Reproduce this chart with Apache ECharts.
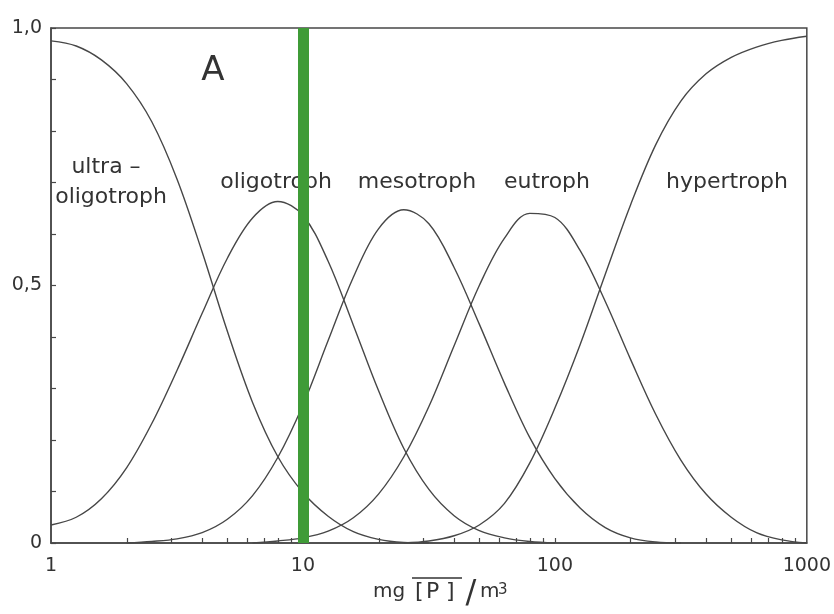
<!DOCTYPE html>
<html>
<head>
<meta charset="utf-8">
<script src="https://cdn.jsdelivr.net/npm/echarts@6/dist/echarts.min.js"></script>
<style>
html,body{margin:0;padding:0;background:#fff;}
#chart{width:834px;height:614px;}
</style>
</head>
<body>
<div id="chart"></div>
<script>
// sample positions along the log axis (mg P / m3)
const xs = [1, 1.259, 1.585, 1.995, 2.512, 3.162, 3.981, 5.012, 6.31, 7.943,
            10, 12.59, 15.85, 19.95, 25.12, 31.62, 39.81, 50.12, 63.1, 79.43,
            100, 125.9, 158.5, 199.5, 251.2, 316.2, 398.1, 501.2, 631, 794.3, 1000];

const ultra = [0.975, 0.965, 0.938, 0.892, 0.818, 0.707, 0.565, 0.411, 0.273, 0.168,
               0.098, 0.052, 0.022, 0.007, 0.001, 0, null, null, null, null,
               null, null, null, null, null, null, null, null, null, null, null];
const oligo = [0.035, 0.05, 0.086, 0.146, 0.232, 0.335, 0.446, 0.553, 0.631, 0.663,
               0.636, 0.547, 0.423, 0.296, 0.184, 0.104, 0.053, 0.024, 0.01, 0.003,
               0, null, null, null, null, null, null, null, null, null, null];
const meso  = [null, null, null, 0, 0.003, 0.008, 0.02, 0.046, 0.092, 0.166,
               0.268, 0.393, 0.516, 0.61, 0.647, 0.62, 0.535, 0.425, 0.31, 0.205,
               0.125, 0.068, 0.03, 0.01, 0.002, 0, null, null, null, null, null];
const eutro = [null, null, null, null, null, null, null, null, 0, 0.004,
               0.01, 0.023, 0.049, 0.095, 0.167, 0.265, 0.383, 0.5, 0.592, 0.64,
               0.632, 0.568, 0.469, 0.357, 0.25, 0.161, 0.095, 0.05, 0.02, 0.006, 0];
const hyper = [null, null, null, null, null, null, null, null, null, null,
               null, null, null, null, 0, 0.004, 0.014, 0.035, 0.077, 0.155,
               0.262, 0.385, 0.522, 0.656, 0.773, 0.858, 0.911, 0.943, 0.963, 0.976, 0.984];

const markerX = [10];
const xTickLabels = [1, 10, 100, 1000];
const xMinorTicks = [2,3,4,5,6,7,8,9,10,20,30,40,50,60,70,80,90,100,200,300,400,500,600,700,800,900];
const yTickLabels = [0, 0.5, 1];
const yLabelText = {'0': '0', '0.5': '0,5', '1': '1,0'};

const curveNames = ['ultra-oligotroph', 'oligotroph', 'mesotroph', 'eutroph', 'hypertroph'];
const curveValues = [ultra, oligo, meso, eutro, hyper];

const FONT = 'DejaVu Sans';
const INK = '#333333';
const LINE = '#474747';

function pairs(vals) {
  const out = [];
  vals.forEach((v, i) => { if (v !== null) out.push([xs[i], v]); });
  return out;
}

const series = curveValues.map((vals, k) => ({
  name: curveNames[k],
  type: 'line',
  data: pairs(vals),
  smooth: 0.35,
  symbol: 'none',
  silent: true,
  lineStyle: { color: LINE, width: 1.4 },
  z: 2
}));

series.push({
  name: 'marker',
  type: 'line',
  data: [],
  z: 5,
  markLine: {
    silent: true,
    symbol: ['none', 'none'],
    label: { show: false },
    lineStyle: { color: '#3f9b37', width: 11, type: 'solid' },
    data: markerX.map(v => ({ xAxis: v }))
  }
});

const chart = echarts.init(document.getElementById('chart'), null, { renderer: 'canvas' });
chart.setOption({
  animation: false,
  backgroundColor: '#fff',
  grid: { left: 51, right: 24, top: 28, bottom: 71, show: true, borderColor: LINE, borderWidth: 1.5, backgroundColor: 'transparent' },
  xAxis: {
    type: 'log', logBase: 10, min: 1, max: 1000,
    axisLine: { show: true, lineStyle: { color: LINE, width: 1.5 } },
    axisTick: { show: true, inside: true, length: 5, customValues: xMinorTicks, lineStyle: { color: LINE, width: 1.2 } },
    axisLabel: { customValues: xTickLabels, margin: 14, fontFamily: FONT, fontSize: 19, color: INK, formatter: v => String(v) },
    splitLine: { show: false }, minorTick: { show: false }
  },
  yAxis: {
    type: 'value', min: 0, max: 1, interval: 0.1,
    axisLine: { show: true, lineStyle: { color: LINE, width: 1.5 } },
    axisTick: { show: true, inside: true, length: 5, lineStyle: { color: LINE, width: 1.2 } },
    axisLabel: { customValues: yTickLabels, margin: 9, fontFamily: FONT, fontSize: 19, color: INK,
      formatter: v => yLabelText[String(Math.round(v * 10) / 10)] || '' },
    splitLine: { show: false }
  },
  series: series,
  graphic: [
    { type: 'text', x: 213, y: 71, style: { text: 'A', font: '34px ' + FONT, fill: INK, textAlign: 'center', textVerticalAlign: 'middle' } },
    { type: 'text', x: 106, y: 167, style: { text: 'ultra –', font: '22px ' + FONT, fill: INK, textAlign: 'center', textVerticalAlign: 'middle' } },
    { type: 'text', x: 111, y: 197, style: { text: 'oligotroph', font: '22px ' + FONT, fill: INK, textAlign: 'center', textVerticalAlign: 'middle' } },
    { type: 'text', x: 276, y: 182, style: { text: 'oligotroph', font: '22px ' + FONT, fill: INK, textAlign: 'center', textVerticalAlign: 'middle' } },
    { type: 'text', x: 417, y: 182, style: { text: 'mesotroph', font: '22px ' + FONT, fill: INK, textAlign: 'center', textVerticalAlign: 'middle' } },
    { type: 'text', x: 547, y: 182, style: { text: 'eutroph', font: '22px ' + FONT, fill: INK, textAlign: 'center', textVerticalAlign: 'middle' } },
    { type: 'text', x: 727, y: 182, style: { text: 'hypertroph', font: '22px ' + FONT, fill: INK, textAlign: 'center', textVerticalAlign: 'middle' } },
    // axis title: mg [P] / m3 with overline over [P]
    { type: 'text', x: 373, y: 602, style: { text: 'mg', font: '20px ' + FONT, fill: INK, textAlign: 'left', textVerticalAlign: 'bottom' } },
    { type: 'text', x: 415, y: 603, style: { text: '[', font: '22px ' + FONT, fill: INK, textAlign: 'left', textVerticalAlign: 'bottom' } },
    { type: 'text', x: 426, y: 603, style: { text: 'P', font: '22px ' + FONT, fill: INK, textAlign: 'left', textVerticalAlign: 'bottom' } },
    { type: 'text', x: 446, y: 603, style: { text: ']', font: '22px ' + FONT, fill: INK, textAlign: 'left', textVerticalAlign: 'bottom' } },
    { type: 'line', shape: { x1: 412, y1: 578, x2: 462, y2: 578 }, style: { stroke: INK, lineWidth: 1.5 } },
    { type: 'text', x: 471, y: 610, style: { text: '/', font: '32px ' + FONT, fill: INK, textAlign: 'center', textVerticalAlign: 'bottom' } },
    { type: 'text', x: 480, y: 602, style: { text: 'm', font: '20px ' + FONT, fill: INK, textAlign: 'left', textVerticalAlign: 'bottom' } },
    { type: 'text', x: 498, y: 598, style: { text: '3', font: '15px ' + FONT, fill: INK, textAlign: 'left', textVerticalAlign: 'bottom' } }
  ]
});
</script>
</body>
</html>
